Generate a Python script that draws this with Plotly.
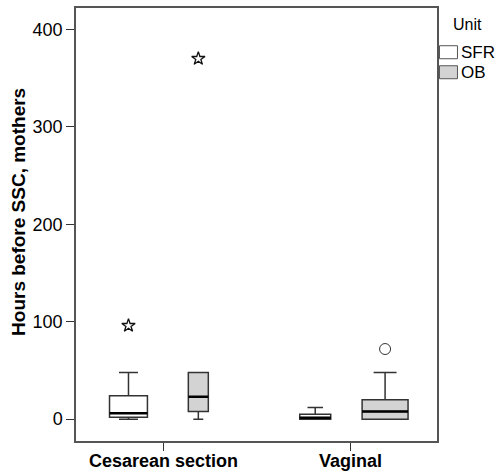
import plotly.graph_objects as go

# ---- data ----
categories = ["Cesarean section", "Vaginal"]
units = ["SFR", "OB"]
# per unit: values per category
q1 = {"SFR": [2, 0], "OB": [8, 0]}
median = {"SFR": [6, 1.5], "OB": [23, 8]}
q3 = {"SFR": [24, 5], "OB": [48, 20]}
lower = {"SFR": [0, 0], "OB": [0, 0]}
upper = {"SFR": [48, 12], "OB": [48, 48]}
# outliers: (category index, value)
extreme_cat = {"SFR": [0], "OB": [0]}
extreme_val = {"SFR": [96], "OB": [370]}
outlier_cat = {"SFR": [], "OB": [1]}
outlier_val = {"SFR": [], "OB": [72]}

# ---- styles ----
fills = {"SFR": "#ffffff", "OB": "#d3d3d3"}
offsets = {"SFR": -0.187, "OB": 0.187}
widths = {"SFR": [0.203, 0.166], "OB": [0.107, 0.246]}
FONT = "Liberation Sans, Arial, sans-serif"

W, H = 496, 472
ML, MR, MT, MB = 75.5, 59, 8.3, 31

fig = go.Figure()
for u in units:
    for ci in range(len(categories)):
        pos = ci + offsets[u]
        fig.add_trace(go.Box(
            x=[pos], q1=[q1[u][ci]], median=[median[u][ci]], q3=[q3[u][ci]],
            lowerfence=[lower[u][ci]], upperfence=[upper[u][ci]],
            width=widths[u][ci], whiskerwidth=0.5,
            fillcolor=fills[u], line=dict(color="#333333", width=1.5),
            boxpoints=False, showlegend=False, hoverinfo="skip"))
        # thick median line
        w = widths[u][ci]
        fig.add_trace(go.Scatter(
            x=[pos - w / 2, pos + w / 2], y=[median[u][ci]] * 2,
            mode="lines", line=dict(color="black", width=2.5),
            showlegend=False, hoverinfo="skip"))
    fig.add_trace(go.Scatter(
        x=[c + offsets[u] for c in extreme_cat[u]], y=extreme_val[u],
        mode="markers", marker=dict(symbol="star-open", size=10, color="#111111",
                                    line=dict(width=1.3)),
        showlegend=False, hoverinfo="skip"))
    fig.add_trace(go.Scatter(
        x=[c + offsets[u] for c in outlier_cat[u]], y=outlier_val[u],
        mode="markers", marker=dict(symbol="circle-open", size=11, color="#333333",
                                    line=dict(width=1)),
        showlegend=False, hoverinfo="skip"))

pw, ph = W - ML - MR, H - MT - MB
def px(x):
    return (x - ML) / pw
def py(y):
    return (H - MB - y) / ph

shapes, annotations = [], []
leg_y = [46, 66]
for u, yy in zip(units, leg_y):
    shapes.append(dict(type="rect", xref="paper", yref="paper",
                       x0=px(439.5), x1=px(457.5), y0=py(yy + 13), y1=py(yy),
                       fillcolor=fills[u], line=dict(color="#555555", width=1)))
    annotations.append(dict(xref="paper", yref="paper", x=px(459), y=py(yy + 6.5),
                            text=u, showarrow=False, xanchor="left", yanchor="middle",
                            font=dict(family=FONT, size=17, color="black")))
annotations.append(dict(xref="paper", yref="paper", x=px(467.5), y=py(25),
                        text="Unit", showarrow=False, xanchor="center", yanchor="middle",
                        font=dict(family=FONT, size=16, color="black")))
annotations.append(dict(xref="paper", yref="paper", x=px(18.5), y=py(212),
                        text="<b>Hours before SSC, mothers</b>", textangle=-90,
                        showarrow=False, xanchor="center", yanchor="middle",
                        font=dict(family=FONT, size=19, color="black")))
# category labels (x tick labels), placed just below the tick marks
for ci, c in enumerate(categories):
    annotations.append(dict(xref="x", yref="paper", x=ci, y=py(460.5),
                            text="<b>%s</b>" % c, showarrow=False,
                            xanchor="center", yanchor="middle",
                            font=dict(family=FONT, size=18, color="black")))

fig.update_layout(
    width=W, height=H, margin=dict(l=ML, r=MR, t=MT, b=MB, autoexpand=False),
    paper_bgcolor="white", plot_bgcolor="white",
    shapes=shapes, annotations=annotations,
    xaxis=dict(range=[-0.468, 1.465], tickvals=list(range(len(categories))),
               showticklabels=False,
               showgrid=False, zeroline=False, showline=True, mirror=True,
               linecolor="#555555", linewidth=1.5, ticks="outside", ticklen=8,
               tickcolor="#333333"),
    yaxis=dict(range=[-22.4, 422], tickvals=[0, 100, 200, 300, 400],
               showgrid=False, zeroline=False, showline=True, mirror=True,
               linecolor="#555555", linewidth=1.5, ticks="outside", ticklen=8,
               tickcolor="#333333", tickfont=dict(family=FONT, size=18, color="black")),
)

fig.write_html("out.html")
